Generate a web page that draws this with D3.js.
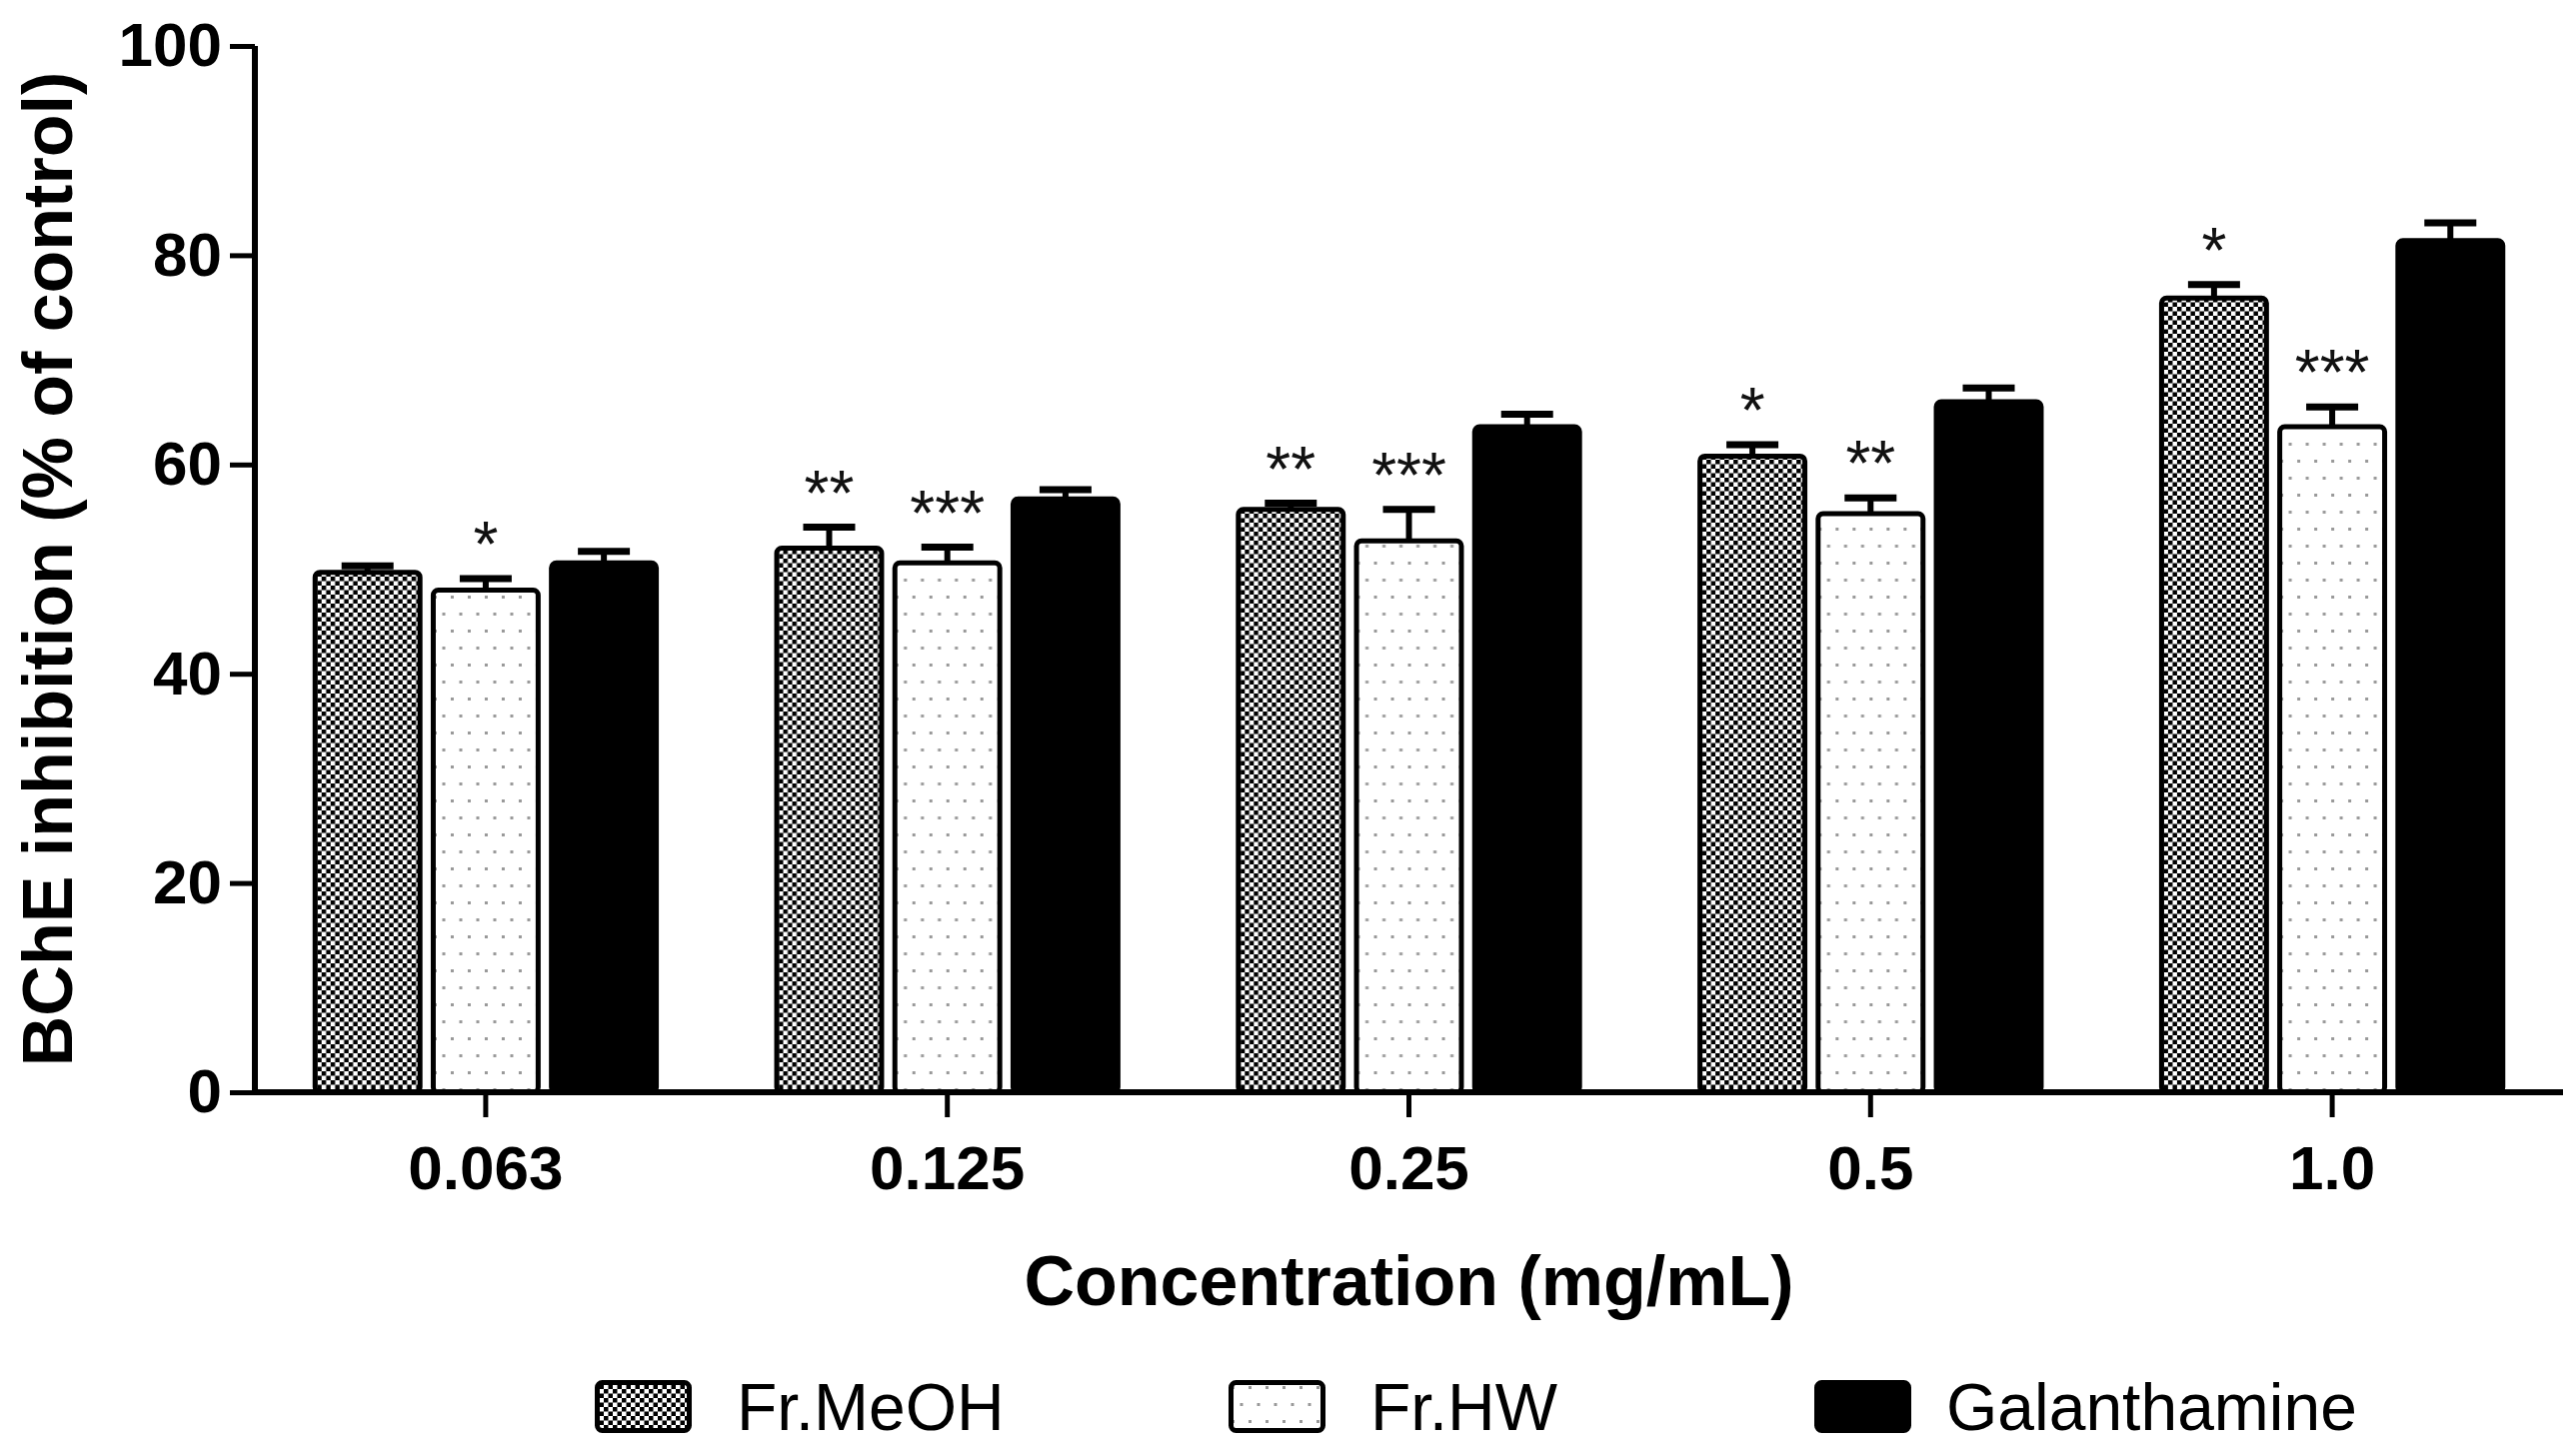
<!DOCTYPE html>
<html>
<head>
<meta charset="utf-8">
<script src="https://cdn.jsdelivr.net/npm/d3@7"></script>
<style>
  body { margin: 0; background: #fff; }
  svg { display: block; font-family: "Liberation Sans", Arial, sans-serif; }
</style>
</head>
<body>
<div id="chart"></div>
<script>
// Chart data
const concentrations = ['0.063', '0.125', '0.25', '0.5', '1.0'];
const seriesNames = ['Fr.MeOH', 'Fr.HW', 'Galanthamine'];

const meohMean = [49.7, 52.0, 55.7, 60.8, 75.9];
const meohErr  = [0.6, 2.0, 0.6, 1.1, 1.3];
const hwMean   = [48.0, 50.6, 52.7, 55.3, 63.6];
const hwErr    = [1.1, 1.5, 3.0, 1.5, 1.9];
const galMean  = [50.6, 56.7, 63.6, 66.0, 81.4];
const galErr   = [1.1, 0.9, 1.2, 1.3, 1.7];

const meohSig = ['', '**', '**', '*', '*'];
const hwSig   = ['*', '***', '***', '**', '***'];
const galSig  = ['', '', '', '', ''];

const yTicks = [0, 20, 40, 60, 80, 100];

// Build rows for drawing
const means = [meohMean, hwMean, galMean];
const errs = [meohErr, hwErr, galErr];
const sigs = [meohSig, hwSig, galSig];
const fills = ['url(#checker)', 'url(#dots)', '#000'];

const rows = [];
concentrations.forEach((c, i) => {
    seriesNames.forEach((s, j) => {
        rows.push({ conc: c, series: s, mean: means[j][i], err: errs[j][i], sig: sigs[j][i], fill: fills[j] });
    });
});

const W = 2577, H = 1455;
const margin = { top: 46, right: 13, bottom: 362, left: 255 };
const width = W - margin.left - margin.right;
const height = H - margin.top - margin.bottom;

const svg = d3.select('#chart').append('svg')
    .attr('width', W)
    .attr('height', H);

// Patterns
const defs = svg.append('defs');

const checker = defs.append('pattern')
    .attr('id', 'checker')
    .attr('patternUnits', 'userSpaceOnUse')
    .attr('width', 9)
    .attr('height', 9);
checker.append('rect').attr('width', 9).attr('height', 9).attr('fill', '#fff');
checker.append('rect').attr('width', 4.5).attr('height', 4.5).attr('fill', '#000');
checker.append('rect').attr('x', 4.5).attr('y', 4.5).attr('width', 4.5).attr('height', 4.5).attr('fill', '#000');

const dots = defs.append('pattern')
    .attr('id', 'dots')
    .attr('patternUnits', 'userSpaceOnUse')
    .attr('width', 17)
    .attr('height', 34);
dots.append('rect').attr('width', 17).attr('height', 34).attr('fill', '#fff');
dots.append('rect').attr('x', 3).attr('y', 6).attr('width', 3).attr('height', 3).attr('fill', '#999');
dots.append('rect').attr('x', 11.5).attr('y', 23).attr('width', 3).attr('height', 3).attr('fill', '#999');

const g = svg.append('g')
    .attr('transform', `translate(${margin.left},${margin.top})`);

// Scales
const x0 = d3.scaleBand()
    .domain(concentrations)
    .range([0, width])
    .paddingInner(0.25)
    .paddingOuter(0.125);

const x1 = d3.scaleBand()
    .domain(seriesNames)
    .range([0, x0.bandwidth()])
    .paddingInner(0.07);

const y = d3.scaleLinear()
    .domain([0, 100])
    .range([height, 0]);

// Bars
const bars = g.selectAll('.bar-group')
    .data(rows)
    .enter()
    .append('g')
    .attr('class', 'bar-group')
    .attr('transform', d => `translate(${x0(d.conc) + x1(d.series)},0)`);

const bw = x1.bandwidth();

// Error bars (upper only), drawn under the bar outline
bars.append('line')
    .attr('x1', bw / 2).attr('x2', bw / 2)
    .attr('y1', d => y(d.mean))
    .attr('y2', d => y(d.mean + d.err))
    .attr('stroke', '#000')
    .attr('stroke-width', 6);

bars.append('line')
    .attr('x1', bw / 2 - 26).attr('x2', bw / 2 + 26)
    .attr('y1', d => y(d.mean + d.err))
    .attr('y2', d => y(d.mean + d.err))
    .attr('stroke', '#000')
    .attr('stroke-width', 7);

bars.append('rect')
    .attr('x', 2.5)
    .attr('y', d => y(d.mean))
    .attr('width', bw - 5)
    .attr('height', d => y(0) - y(d.mean))
    .attr('rx', 5)
    .attr('fill', d => d.fill)
    .attr('stroke', '#000')
    .attr('stroke-width', 5);

// Significance stars
bars.append('text')
    .attr('x', bw / 2)
    .attr('y', d => y(d.mean + d.err) - 12)
    .attr('text-anchor', 'middle')
    .style('font-size', '64px')
    .style('fill', '#111')
    .text(d => d.sig);

// Y axis
const yAxis = g.append('g')
    .call(d3.axisLeft(y).tickValues(yTicks).tickSize(25).tickPadding(8));

// X axis
const xAxis = g.append('g')
    .attr('transform', `translate(0,${height})`)
    .call(d3.axisBottom(x0).tickSize(25).tickPadding(28));

[yAxis, xAxis].forEach(ax => {
    ax.select('.domain').attr('stroke', '#000').attr('stroke-width', 6);
    ax.selectAll('.tick line').attr('stroke', '#000').attr('stroke-width', 5);
    ax.selectAll('.tick text')
        .attr('fill', '#000')
        .style('font-size', '62px')
        .style('font-weight', 'bold')
        .style('font-family', '"Liberation Sans", Arial, sans-serif');
});
// the x domain should start at the y axis with no outer tick
xAxis.select('.domain').attr('d', `M0,0H${width}`);
yAxis.select('.domain').attr('d', `M0,${height}V0`);

// Axis titles
svg.append('text')
    .attr('transform', `translate(72,${margin.top + height / 2}) rotate(-90)`)
    .attr('text-anchor', 'middle')
    .style('font-size', '70px')
    .style('font-weight', 'bold')
    .text('BChE inhibition (% of control)');

svg.append('text')
    .attr('x', margin.left + width / 2)
    .attr('y', 1306)
    .attr('text-anchor', 'middle')
    .style('font-size', '70px')
    .style('font-weight', 'bold')
    .text('Concentration (mg/mL)');

// Legend
const legendX = [595, 1229, 1815];
const legend = svg.selectAll('.legend-item')
    .data(seriesNames)
    .enter()
    .append('g')
    .attr('class', 'legend-item')
    .attr('transform', (d, i) => `translate(${legendX[i]},1381)`);

legend.append('rect')
    .attr('x', 2.5).attr('y', 2.5)
    .attr('width', 92).attr('height', 48)
    .attr('rx', 5)
    .attr('fill', (d, i) => fills[i])
    .attr('stroke', '#000')
    .attr('stroke-width', 5);

legend.append('text')
    .attr('x', (d, i) => i === 2 ? 132 : 142)
    .attr('y', 50)
    .style('font-size', '66px')
    .text(d => d);
</script>
</body>
</html>
